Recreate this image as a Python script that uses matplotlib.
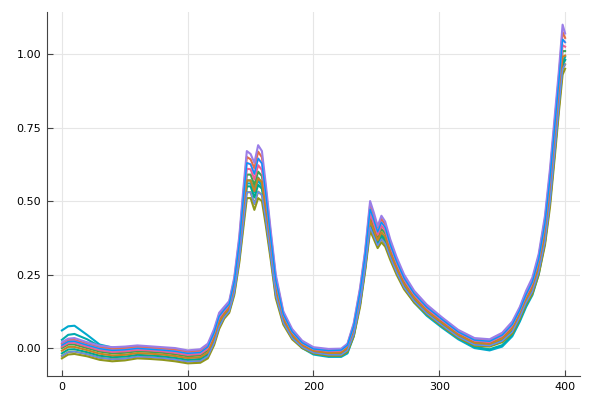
import numpy as np
import matplotlib
matplotlib.use('Agg')
import matplotlib.pyplot as plt

x_pts = [0, 5, 10, 20, 30, 40, 50, 60, 70, 80, 90, 100, 110, 116, 121, 125, 129, 133, 137, 141,
         144, 147, 150, 153, 156, 159, 162, 166, 170, 176, 183, 191, 200, 212, 222, 227, 232, 237,
         241, 245, 248, 251, 254, 257, 261, 266, 272, 280, 290, 302, 315, 328, 340, 350, 358, 364,
         369, 374, 379, 384, 388, 392, 395, 398, 400]

# lowest spectrum of the band
spec_low = [-0.035, -0.022, -0.020, -0.028, -0.040, -0.045, -0.042, -0.035, -0.037, -0.040, -0.045,
            -0.052, -0.050, -0.035, 0.010, 0.065, 0.100, 0.120, 0.180, 0.290,
            0.400, 0.510, 0.510, 0.470, 0.510, 0.500, 0.420, 0.300, 0.170, 0.080, 0.030, 0.000,
            -0.018, -0.026, -0.026, -0.012, 0.040, 0.140,
            0.260, 0.400, 0.370, 0.340, 0.360, 0.345, 0.300, 0.250, 0.200, 0.155, 0.115, 0.075,
            0.035, 0.008, 0.005, 0.020, 0.050, 0.100,
            0.150, 0.185, 0.250, 0.350, 0.480, 0.660, 0.800, 0.930, 0.950]

spec_la = [-0.027, -0.014, -0.012, -0.021, -0.033, -0.038, -0.036, -0.029, -0.031, -0.034, -0.039,
           -0.046, -0.044, -0.028, 0.017, 0.072, 0.105, 0.125, 0.187, 0.300,
           0.415, 0.530, 0.530, 0.490, 0.532, 0.520, 0.438, 0.312, 0.180, 0.086, 0.034, 0.003,
           -0.016, -0.023, -0.023, -0.008, 0.046, 0.149,
           0.269, 0.411, 0.380, 0.349, 0.371, 0.356, 0.309, 0.258, 0.206, 0.160, 0.118, 0.078,
           0.038, 0.011, 0.008, 0.024, 0.055, 0.105,
           0.155, 0.192, 0.259, 0.362, 0.496, 0.678, 0.818, 0.950, 0.965]

spec_a = [-0.018, -0.005, -0.004, -0.014, -0.026, -0.031, -0.029, -0.023, -0.025, -0.028, -0.033,
          -0.040, -0.037, -0.021, 0.025, 0.080, 0.110, 0.130, 0.195, 0.310,
          0.430, 0.550, 0.550, 0.512, 0.555, 0.542, 0.455, 0.325, 0.190, 0.092, 0.039, 0.006,
          -0.013, -0.020, -0.019, -0.004, 0.052, 0.158,
          0.278, 0.422, 0.390, 0.358, 0.382, 0.368, 0.318, 0.265, 0.212, 0.165, 0.122, 0.082,
          0.042, 0.014, 0.010, 0.028, 0.060, 0.110,
          0.160, 0.198, 0.268, 0.375, 0.512, 0.695, 0.835, 0.970, 0.980]

spec_am = [-0.009, 0.004, 0.004, -0.007, -0.019, -0.025, -0.023, -0.017, -0.019, -0.022, -0.027,
           -0.034, -0.031, -0.015, 0.032, 0.088, 0.115, 0.135, 0.202, 0.320,
           0.445, 0.570, 0.570, 0.534, 0.578, 0.564, 0.472, 0.338, 0.200, 0.098, 0.044, 0.009,
           -0.011, -0.017, -0.016, 0.000, 0.058, 0.166,
           0.286, 0.434, 0.400, 0.366, 0.394, 0.379, 0.326, 0.272, 0.218, 0.170, 0.126, 0.086,
           0.045, 0.017, 0.013, 0.032, 0.065, 0.115,
           0.165, 0.204, 0.276, 0.388, 0.528, 0.712, 0.852, 0.990, 0.995]

spec_mid = [0.000, 0.012, 0.012, 0.000, -0.012, -0.018, -0.016, -0.011, -0.013, -0.016, -0.021,
            -0.028, -0.025, -0.008, 0.040, 0.095, 0.120, 0.140, 0.210, 0.330,
            0.460, 0.590, 0.590, 0.555, 0.600, 0.585, 0.490, 0.350, 0.210, 0.105, 0.048, 0.012,
            -0.008, -0.014, -0.012, 0.005, 0.065, 0.175,
            0.295, 0.445, 0.410, 0.375, 0.405, 0.390, 0.335, 0.280, 0.225, 0.175, 0.130, 0.090,
            0.048, 0.020, 0.016, 0.035, 0.070, 0.120,
            0.170, 0.210, 0.285, 0.400, 0.545, 0.730, 0.870, 1.010, 1.010]

spec_mb = [0.005, 0.017, 0.018, 0.005, -0.007, -0.013, -0.011, -0.006, -0.008, -0.011, -0.016,
           -0.023, -0.020, -0.002, 0.046, 0.102, 0.125, 0.145, 0.218, 0.342,
           0.478, 0.610, 0.608, 0.574, 0.622, 0.606, 0.508, 0.362, 0.220, 0.110, 0.052, 0.015,
           -0.005, -0.011, -0.010, 0.008, 0.070, 0.182,
           0.304, 0.458, 0.422, 0.385, 0.416, 0.400, 0.344, 0.288, 0.232, 0.180, 0.134, 0.094,
           0.052, 0.024, 0.020, 0.040, 0.075, 0.125,
           0.176, 0.218, 0.294, 0.412, 0.562, 0.748, 0.888, 1.030, 1.025]

spec_b = [0.010, 0.022, 0.023, 0.010, -0.002, -0.008, -0.006, -0.001, -0.004, -0.007, -0.011,
          -0.018, -0.015, 0.004, 0.052, 0.108, 0.130, 0.150, 0.225, 0.355,
          0.495, 0.630, 0.625, 0.592, 0.645, 0.628, 0.525, 0.375, 0.230, 0.115, 0.056, 0.018,
          -0.003, -0.009, -0.007, 0.010, 0.075, 0.190,
          0.312, 0.472, 0.435, 0.395, 0.428, 0.410, 0.352, 0.295, 0.238, 0.185, 0.139, 0.098,
          0.055, 0.027, 0.023, 0.044, 0.080, 0.130,
          0.182, 0.225, 0.302, 0.425, 0.578, 0.765, 0.905, 1.050, 1.040]

spec_bh = [0.015, 0.027, 0.028, 0.015, 0.003, -0.003, -0.001, 0.004, 0.001, -0.002, -0.006,
           -0.013, -0.010, 0.010, 0.058, 0.114, 0.135, 0.155, 0.232, 0.368,
           0.512, 0.650, 0.642, 0.611, 0.668, 0.649, 0.542, 0.388, 0.240, 0.120, 0.060, 0.022,
           0.000, -0.006, -0.005, 0.012, 0.080, 0.198,
           0.321, 0.486, 0.448, 0.405, 0.439, 0.420, 0.361, 0.302, 0.244, 0.190, 0.144, 0.102,
           0.058, 0.030, 0.026, 0.048, 0.085, 0.135,
           0.188, 0.232, 0.311, 0.438, 0.594, 0.782, 0.922, 1.075, 1.055]

# highest spectrum of the band
spec_high = [0.020, 0.032, 0.034, 0.020, 0.008, 0.003, 0.005, 0.009, 0.006, 0.003, 0.000,
             -0.008, -0.004, 0.015, 0.065, 0.120, 0.140, 0.160, 0.240, 0.380,
             0.530, 0.670, 0.660, 0.630, 0.690, 0.670, 0.560, 0.400, 0.250, 0.125, 0.065, 0.025,
             0.003, -0.003, -0.002, 0.015, 0.085, 0.205,
             0.330, 0.500, 0.460, 0.415, 0.450, 0.430, 0.370, 0.310, 0.250, 0.195, 0.148, 0.105,
             0.062, 0.034, 0.030, 0.052, 0.090, 0.140,
             0.195, 0.240, 0.320, 0.450, 0.610, 0.800, 0.940, 1.100, 1.070]

# two samples that sit above the rest at the start
spec_odd1 = [0.060, 0.074, 0.076, 0.045, 0.012, 0.002, 0.001, 0.005, 0.003, -0.002, -0.006,
             -0.012, -0.010, 0.005, 0.045, 0.100, 0.120, 0.140, 0.200, 0.320,
             0.440, 0.560, 0.560, 0.530, 0.570, 0.550, 0.470, 0.330, 0.190, 0.090, 0.035, 0.000,
             -0.022, -0.030, -0.030, -0.018, 0.040, 0.150,
             0.270, 0.420, 0.390, 0.360, 0.380, 0.365, 0.315, 0.260, 0.205, 0.155, 0.110, 0.070,
             0.030, 0.000, -0.008, 0.005, 0.040, 0.090,
             0.140, 0.180, 0.250, 0.360, 0.500, 0.680, 0.820, 0.960, 0.980]

spec_odd2 = [0.028, 0.045, 0.048, 0.030, 0.006, -0.004, -0.004, 0.000, -0.002, -0.006, -0.010,
             -0.017, -0.014, 0.003, 0.048, 0.103, 0.125, 0.145, 0.205, 0.325,
             0.450, 0.570, 0.570, 0.540, 0.580, 0.560, 0.478, 0.338, 0.196, 0.094, 0.038, 0.003,
             -0.019, -0.027, -0.026, -0.014, 0.046, 0.156,
             0.276, 0.428, 0.396, 0.365, 0.386, 0.372, 0.322, 0.266, 0.210, 0.160, 0.115, 0.074,
             0.034, 0.004, -0.004, 0.010, 0.046, 0.096,
             0.146, 0.186, 0.258, 0.370, 0.512, 0.692, 0.832, 0.975, 0.990]

spectra = [spec_odd1, spec_odd2, spec_low, spec_mid, spec_la, spec_bh, spec_a,
           spec_mb, spec_am, spec_b, spec_high]
colors = ['#00A9CD', '#00AAAE', '#8E971D', '#3EA44E', '#AC8E18', '#E36F47', '#00A98D',
          '#ED5E93', '#C68225', '#C371D2', '#9B7EE8']

fig = plt.figure(figsize=(6, 4), dpi=100)
ax = fig.add_axes([0.078, 0.06, 0.889, 0.91])

for y, c in zip(spectra, colors):
    ax.plot(x_pts, y, color=c, linewidth=1.5)
# blue traces end up on top in the original
ax.plot(x_pts, spec_b, color='#009AFA', linewidth=1.0)
ax.plot(x_pts, spec_la, color='#618CF7', linewidth=1.0)

ax.set_xlim(-12, 412)
ax.set_ylim(-0.095, 1.143)
ax.set_xticks([0, 100, 200, 300, 400])
ax.set_yticks([0.0, 0.25, 0.5, 0.75, 1.0])
ax.set_yticklabels(['0.00', '0.25', '0.50', '0.75', '1.00'])
ax.grid(True, color='#e6e6e6', linewidth=0.8)
ax.set_axisbelow(True)
for s in ['top', 'right']:
    ax.spines[s].set_visible(False)
for s in ['left', 'bottom']:
    ax.spines[s].set_color('#444444')
ax.tick_params(direction='in', length=4, width=0.8, color='#444444', labelsize=8, pad=4)

fig.savefig('out.png', dpi=100)
